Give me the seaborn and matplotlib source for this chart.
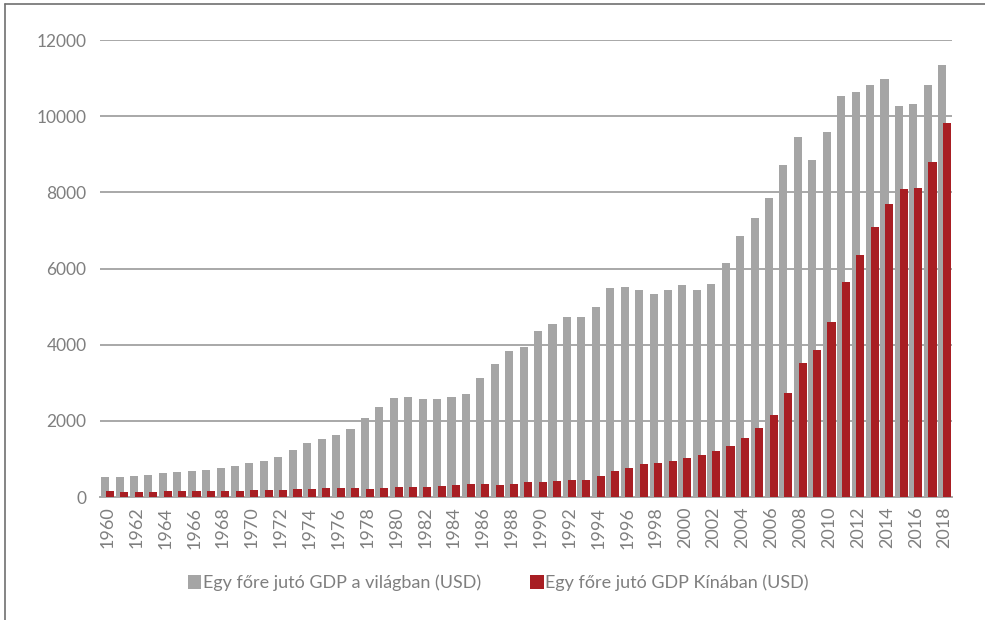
import matplotlib
matplotlib.use("Agg")
import matplotlib.pyplot as plt
import seaborn as sns
import pandas as pd
from matplotlib.lines import Line2D
from matplotlib.patches import Patch

years = list(range(1960, 2019))
world_gdp = [518, 518, 544, 578, 631, 657, 683, 710, 771, 823,
             885, 937, 1051, 1243, 1411, 1516, 1629, 1795, 2076, 2357,
             2610, 2636, 2575, 2575, 2636, 2715, 3135, 3495, 3837, 3942,
             4362, 4538, 4722, 4722, 5002, 5475, 5511, 5423, 5335, 5448,
             5563, 5448, 5590, 6155, 6854, 7327, 7853, 8730, 9456, 8861,
             9587, 10533, 10647, 10814, 10980, 10254, 10307, 10814, 11340]
china_gdp = [158, 131, 131, 131, 158, 158, 158, 158, 158, 158,
             184, 184, 184, 210, 210, 237, 237, 237, 210, 237,
             263, 263, 263, 289, 315, 350, 350, 315, 350, 385,
             385, 412, 438, 438, 552, 683, 771, 858, 885, 937,
             1016, 1104, 1218, 1340, 1556, 1808, 2142, 2728, 3508, 3868,
             4594, 5655, 6355, 7100, 7687, 8081, 8107, 8799, 9808]
series_names = ["Egy főre jutó GDP a világban (USD)", "Egy főre jutó GDP Kínában (USD)"]
y_ticks = [0, 2000, 4000, 6000, 8000, 10000, 12000]

GRAY = "#A5A5A5"
RED = "#A81E23"
TXT = "#7F7F7F"
GRID = "#A8A8A8"

sns.set_style("white")
plt.rcParams["font.family"] = ["Lato", "DejaVu Sans"]

df = pd.DataFrame({"year": [str(y) for y in years], "world": world_gdp, "china": china_gdp})

fig = plt.figure(figsize=(9.85, 6.2), dpi=100)
ax = fig.add_axes([100.3 / 985, 1 - 497 / 620, (951.8 - 100.3) / 985, (497 - 40) / 620])

w = 0.56
sns.barplot(data=df, x="year", y="world", color=GRAY, width=w, ax=ax,
            saturation=1, errorbar=None, zorder=3)
n1 = len(ax.patches)
sns.barplot(data=df, x="year", y="china", color=RED, width=w, ax=ax,
            saturation=1, errorbar=None, zorder=4)
for i, p in enumerate(ax.patches):
    if i < n1:
        p.set_x(p.get_x() - 0.165)
    else:
        p.set_x(p.get_x() + 0.165)
    p.set_linewidth(0)

ax.set_xlim(-0.5, len(years) - 0.5)
ax.set_ylim(0, 12000)
ax.set_yticks(y_ticks)
ax.set_yticklabels([str(v) for v in y_ticks], color=TXT, fontsize=12.5)
ax.yaxis.grid(True, color=GRID, linewidth=1.4, zorder=0)
ax.set_axisbelow(True)
ax.set_xticks(range(0, len(years), 2))
ax.set_xticklabels([str(y) for y in years[::2]], rotation=90, color=TXT, fontsize=13)
ax.tick_params(axis="both", length=0, pad=10)
ax.tick_params(axis="x", pad=7)
ax.set_xlabel("")
ax.set_ylabel("")
for s in ["top", "right", "left"]:
    ax.spines[s].set_visible(False)
ax.spines["bottom"].set_color(GRID)
ax.spines["bottom"].set_linewidth(1.4)

handles = [Patch(facecolor=GRAY, edgecolor="none"), Patch(facecolor=RED, edgecolor="none")]
leg = fig.legend(handles, series_names, loc="center", bbox_to_anchor=(0.506, 1 - 583 / 620),
                 ncol=2, frameon=False, fontsize=13, handlelength=0.75, handleheight=0.75,
                 handletextpad=0.1, columnspacing=2.7)
for t in leg.get_texts():
    t.set_color(TXT)

fig.add_artist(Line2D([5 / 985, 5 / 985], [0, 1 - 3.5 / 620], transform=fig.transFigure,
                      color="#707070", linewidth=1.2))
fig.add_artist(Line2D([5 / 985, 1], [1 - 3.5 / 620, 1 - 3.5 / 620], transform=fig.transFigure,
                      color="#707070", linewidth=1.2))

fig.savefig("out.png", dpi=100)
